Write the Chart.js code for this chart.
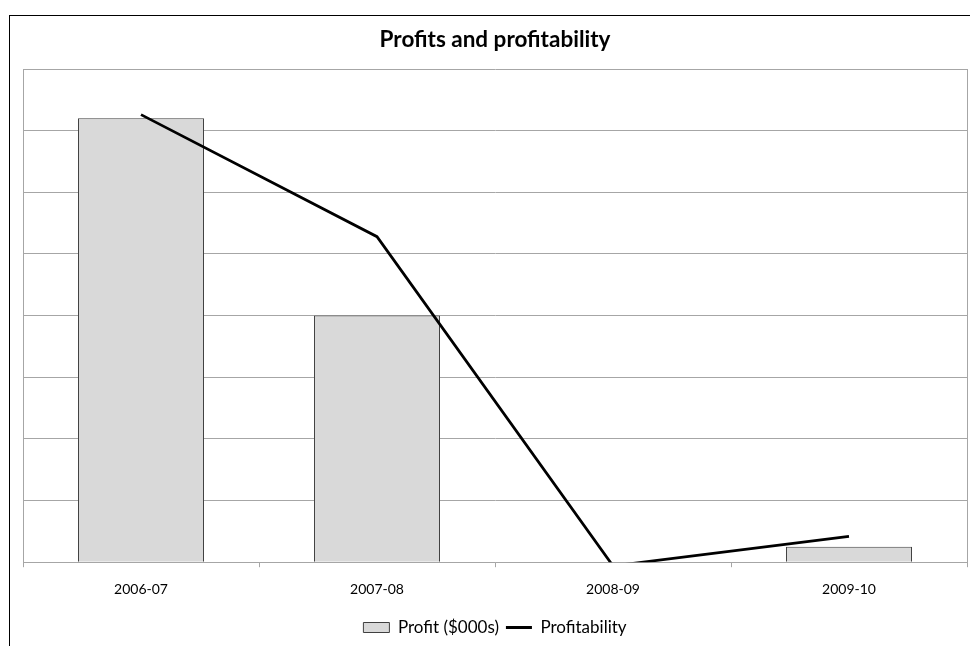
<!DOCTYPE html>
<html>
<head>
<meta charset="utf-8">
<script src="https://cdn.jsdelivr.net/npm/chart.js@4/dist/chart.umd.min.js"></script>
<style>
  html, body { margin: 0; padding: 0; background: #ffffff; }
  #wrap { position: relative; width: 970px; height: 646px; overflow: hidden; }
  #frame { position: absolute; left: 9px; top: 15px; width: 1000px; height: 700px; border: 1.5px solid #000; box-sizing: border-box; }
  #chartBox { position: absolute; left: 0; top: 0; width: 970px; height: 646px; }
</style>
</head>
<body>
<div id="wrap">
  <div id="frame"></div>
  <div id="chartBox"><canvas id="myChart"></canvas></div>
</div>
<script>
const years = ["2006-07", "2007-08", "2008-09", "2009-10"];
const profit = [720, 400, 0, 25];            // $000s
const profitability = [36.3, 26.4, -0.3, 2.1]; // %

const gridGray = "#a6a6a6";
const font = "Lato, 'Open Sans', sans-serif";

const ctx = document.getElementById("myChart");

const chart = new Chart(ctx, {
  data: {
    labels: years,
    datasets: [
      {
        type: "line",
        label: "Profitability",
        data: profitability,
        yAxisID: "y1",
        borderColor: "#000000",
        backgroundColor: "#000000",
        borderWidth: 2.75,
        pointRadius: 0,
        tension: 0,
        clip: 0,
        order: 0,
      },
      {
        type: "bar",
        label: "Profit ($000s)",
        data: profit,
        yAxisID: "y",
        backgroundColor: "#d9d9d9",
        borderColor: "#404040",
        borderWidth: 1,
        barPercentage: 0.534,
        categoryPercentage: 1,
        order: 1,
      },
    ],
  },
  options: {
    responsive: true,
    maintainAspectRatio: false,
    animation: false,
    layout: { padding: { left: 23, right: 3, top: 0, bottom: 0 } },
    plugins: {
      title: {
        display: true,
        text: "Profits and profitability",
        color: "#000",
        font: { family: font, size: 22.5, weight: "bold" },
        padding: { top: 26, bottom: 16 },
      },
      legend: {
        position: "bottom",
        reverse: true,
        labels: {
          color: "#000",
          font: { family: font, size: 17 },
          usePointStyle: true,
          pointStyleWidth: 26,
          boxHeight: 10,
          padding: 7,
          generateLabels: (c) => {
            const items = Chart.defaults.plugins.legend.labels.generateLabels(c);
            items.forEach((it) => {
              if (it.datasetIndex === 0) {
                it.pointStyle = "line";
                it.lineWidth = 3;
                it.strokeStyle = "#000";
              } else {
                it.pointStyle = "rect";
                it.fillStyle = "#d9d9d9";
                it.strokeStyle = "#404040";
                it.lineWidth = 1;
              }
            });
            return items;
          },
        },
      },
      tooltip: { enabled: false },
    },
    scales: {
      x: {
        offset: true,
        grid: {
          offset: true,
          drawOnChartArea: false,
          color: gridGray,
          tickLength: 5,
        },
        border: { color: gridGray },
        ticks: {
          color: "#000",
          font: { family: font, size: 14 },
          padding: 14,
        },
      },
      y: {
        position: "left",
        min: 0,
        max: 800,
        ticks: { display: false, stepSize: 100 },
        grid: { color: gridGray, drawTicks: false },
        border: { color: gridGray },
      },
      y1: {
        position: "right",
        min: 0,
        max: 40,
        ticks: { display: false },
        grid: { drawOnChartArea: false, drawTicks: false },
        border: { color: gridGray },
      },
    },
  },
});
</script>
</body>
</html>
